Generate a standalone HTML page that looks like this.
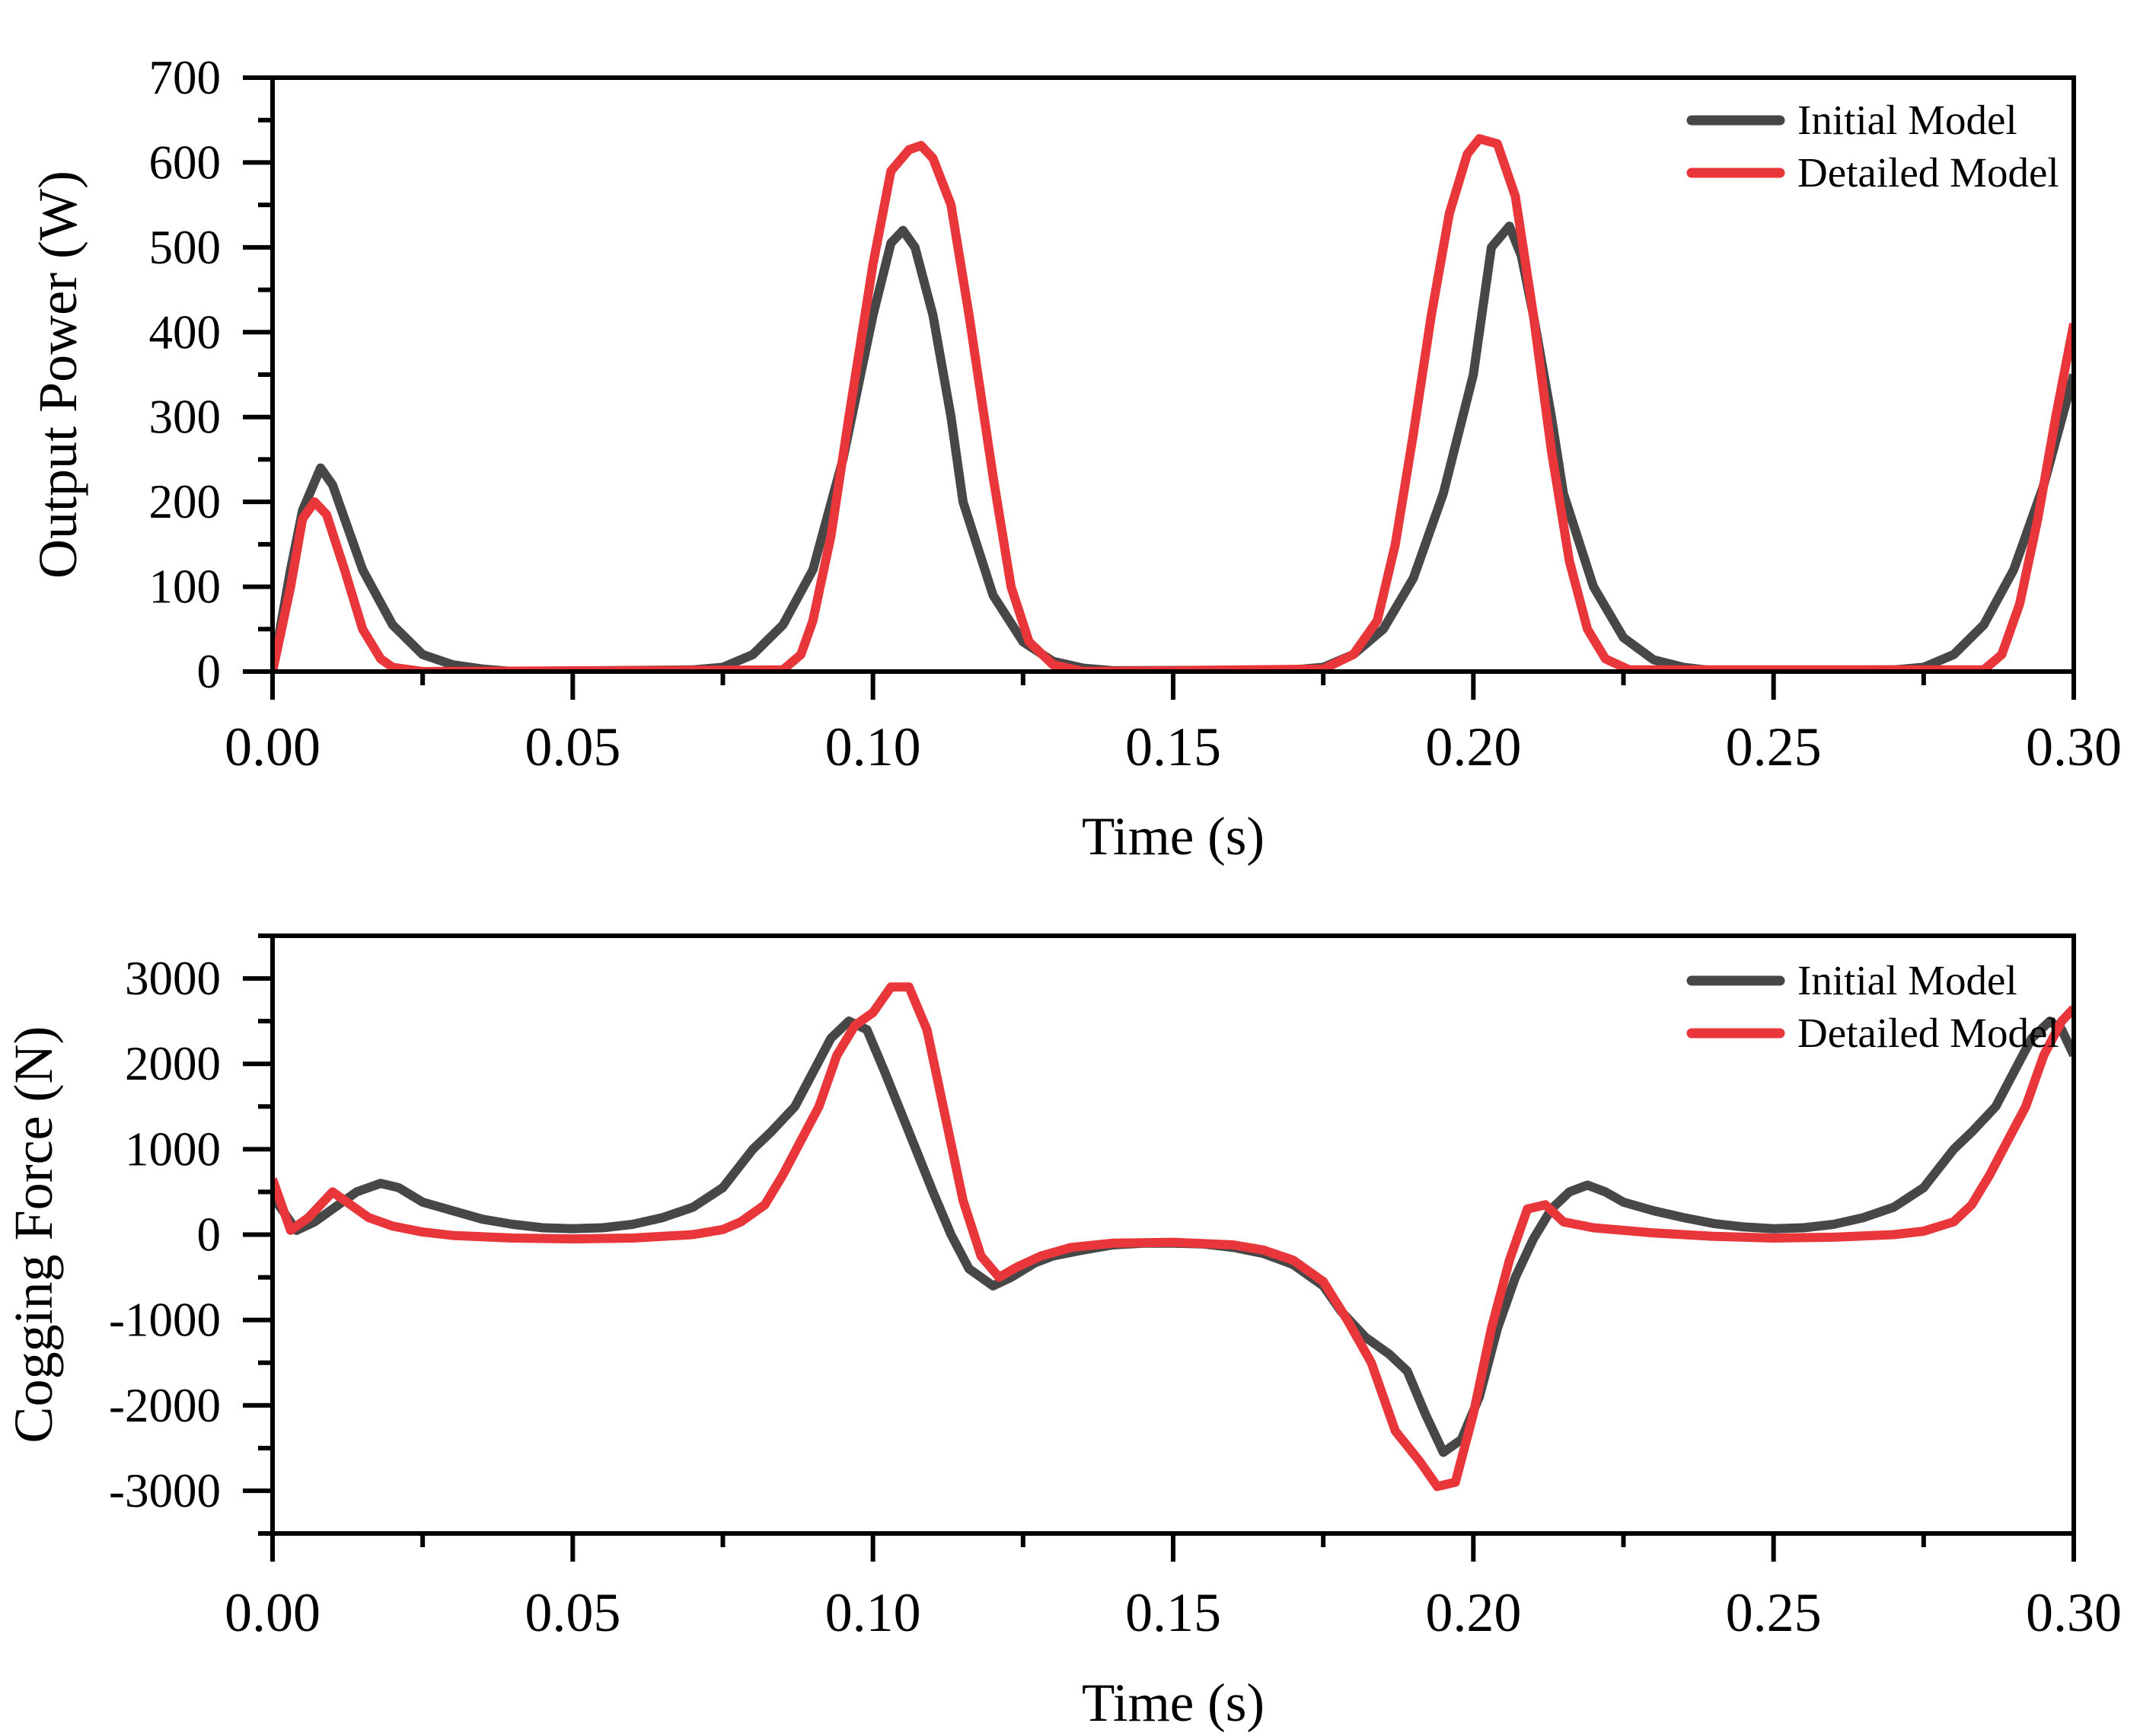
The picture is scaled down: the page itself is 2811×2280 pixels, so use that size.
<!DOCTYPE html>
<html><head><meta charset="utf-8"><style>
html,body{margin:0;padding:0;background:#fff;}
svg{display:block;font-family:"Liberation Serif",serif;}
</style></head><body>
<svg id="c" width="2811" height="2280" viewBox="0 0 2811 2280"></svg>
<script>
const xTicks=["0.00","0.05","0.10","0.15","0.20","0.25","0.30"];
const pTicks=[0,100,200,300,400,500,600,700];
const fTicks=[-3000,-2000,-1000,0,1000,2000,3000];
const seriesNames=["Initial Model","Detailed Model"];
const pInitT=[0,0.003,0.005,0.008,0.01,0.015,0.02,0.025,0.03,0.035,0.04,0.07,0.075,0.08,0.085,0.09,0.095,0.1,0.103,0.105,0.107,0.11,0.113,0.115,0.12,0.125,0.13,0.135,0.14,0.17,0.175,0.18,0.185,0.19,0.195,0.2,0.203,0.206,0.208,0.21,0.213,0.215,0.22,0.225,0.23,0.235,0.24,0.27,0.275,0.28,0.285,0.29,0.295,0.3];
const pInitV=[0,120,190,240,220,120,55,20,8,3,0,2,5,20,55,120,250,420,505,520,500,420,300,200,90,35,12,4,1,2,5,20,50,110,210,350,500,525,490,420,300,210,100,40,14,5,1,2,5,20,55,120,220,350];
const pDetT=[0,0.003,0.005,0.007,0.009,0.012,0.015,0.018,0.02,0.025,0.085,0.088,0.09,0.093,0.096,0.1,0.103,0.106,0.108,0.11,0.113,0.116,0.12,0.123,0.126,0.13,0.135,0.175,0.18,0.184,0.187,0.19,0.193,0.196,0.199,0.201,0.204,0.207,0.21,0.213,0.216,0.219,0.222,0.226,0.285,0.288,0.291,0.294,0.297,0.3];
const pDetV=[0,100,180,200,185,120,50,15,5,0,2,20,60,160,300,480,590,615,620,605,550,420,230,100,35,8,0,3,20,60,150,280,420,540,610,628,622,560,420,260,130,50,15,2,2,20,80,180,300,410];
const fInitT=[0,0.004,0.007,0.01,0.014,0.018,0.021,0.025,0.03,0.035,0.04,0.045,0.05,0.055,0.06,0.065,0.07,0.075,0.08,0.083,0.087,0.09,0.093,0.096,0.099,0.102,0.106,0.11,0.113,0.116,0.12,0.123,0.127,0.13,0.135,0.14,0.145,0.15,0.155,0.16,0.165,0.17,0.175,0.178,0.182,0.186,0.189,0.192,0.195,0.198,0.201,0.204,0.207,0.21,0.213,0.216,0.219,0.222,0.225,0.23,0.235,0.24,0.245,0.25,0.255,0.26,0.265,0.27,0.275,0.28,0.283,0.287,0.29,0.293,0.296,0.298,0.3];
const fInitV=[450,50,150,300,500,600,550,380,280,180,120,80,70,80,120,200,320,550,1000,1200,1500,1900,2300,2500,2400,1900,1200,500,0,-400,-600,-500,-330,-250,-180,-120,-100,-100,-110,-150,-220,-350,-600,-900,-1200,-1400,-1600,-2100,-2550,-2400,-1900,-1100,-500,-50,300,500,580,500,380,280,200,130,90,70,80,120,200,320,550,1000,1200,1500,1900,2300,2500,2400,2100];
const fDetT=[0,0.003,0.006,0.01,0.013,0.016,0.02,0.025,0.03,0.04,0.05,0.06,0.07,0.075,0.078,0.082,0.085,0.088,0.091,0.094,0.097,0.1,0.103,0.106,0.109,0.112,0.115,0.118,0.121,0.124,0.128,0.133,0.14,0.15,0.16,0.165,0.17,0.175,0.179,0.183,0.187,0.191,0.194,0.197,0.2,0.203,0.206,0.209,0.212,0.215,0.22,0.23,0.24,0.25,0.26,0.27,0.275,0.28,0.283,0.286,0.289,0.292,0.295,0.298,0.3];
const fDetV=[650,50,200,500,350,200,100,30,-10,-40,-50,-40,0,60,150,350,700,1100,1500,2100,2450,2600,2900,2900,2400,1400,400,-250,-500,-380,-250,-150,-100,-90,-120,-180,-300,-550,-1000,-1500,-2300,-2650,-2950,-2900,-2100,-1100,-300,300,350,150,80,20,-20,-40,-30,0,40,150,350,700,1100,1500,2100,2500,2650];

const svg=document.getElementById('c');
const NS='http://www.w3.org/2000/svg';
function mk(tag,attrs,parent){const e=document.createElementNS(NS,tag);for(const k in attrs)e.setAttribute(k,attrs[k]);(parent||svg).appendChild(e);return e;}
const L=358,R=2724;
const xs=t=>L+(t/0.3)*(R-L);
const colors=["#474747","#e8363a"];

function panel(id,top,bot,ymin,ymax,yt,minorStep,ytitle,series,xLabY,xTitleY,legY,yTitleX){
  const g=mk('g',{});
  
  
  const ys=v=>bot-(v-ymin)/(ymax-ymin)*(bot-top);
  const clipId=id+'-clip';
  const cp=mk('clipPath',{id:clipId},g);mk('rect',{x:L,y:top,width:R-L,height:bot-top},cp);
  series.forEach((s,i)=>{
    let d='';s[0].forEach((t,j)=>{d+=(j?'L':'M')+xs(t).toFixed(1)+','+ys(s[1][j]).toFixed(1);});
    const p=mk('path',{d:d,fill:'none',stroke:colors[i],'stroke-width':12,'stroke-linejoin':'round','clip-path':'url(#'+clipId+')'},g);
    
    
  });
  const fr=mk('rect',{x:L,y:top,width:R-L,height:bot-top,fill:'none',stroke:'#000','stroke-width':6},g);
  
  
  for(let v=ymin;v<=ymax+1e-9;v+=minorStep){
    const major=yt.includes(v);
    mk('line',{x1:L,x2:L-(major?39:19),y1:ys(v),y2:ys(v),stroke:'#000','stroke-width':6},g);
  }
  yt.forEach(v=>{const t=mk('text',{x:L-68,y:ys(v)+21,'text-anchor':'end','font-size':63},g);t.textContent=String(v);
    
    });
  for(let k=0;k<=12;k++){const t=k*0.025,major=k%2==0;
    mk('line',{x1:xs(t),x2:xs(t),y1:bot,y2:bot+(major?37:18),stroke:'#000','stroke-width':6},g);}
  xTicks.forEach((lab,k)=>{const t=mk('text',{x:xs(k*0.05),y:xLabY,'text-anchor':'middle','font-size':72},g);t.textContent=lab;
    
    });
  const xt=mk('text',{x:(L+R)/2,y:xTitleY,'text-anchor':'middle','font-size':71},g);xt.textContent='Time (s)';
  
  
  const cy=(top+bot)/2;
  const yT=mk('text',{x:0,y:0,'text-anchor':'middle','font-size':72,transform:'translate('+yTitleX+','+cy+') rotate(-90)'},g);yT.textContent=ytitle;
  
  
  seriesNames.forEach((n,i)=>{
    const y=legY+i*69;
    const lg=mk('g',{},g);
    
    
    mk('line',{x1:2222,x2:2338,y1:y,y2:y,stroke:colors[i],'stroke-width':13,'stroke-linecap':'round'},lg);
    const t=mk('text',{x:2361,y:y+18,'font-size':55},lg);t.textContent=n;
  });
}
panel('power',102,882,0,700,pTicks,50,'Output Power (W)',[[pInitT,pInitV],[pDetT,pDetV]],1005,1122,158,100);
panel('cogging',1229,2014,-3500,3500,fTicks,500,'Cogging Force (N)',[[fInitT,fInitV],[fDetT,fDetV]],2142,2260,1288,68);
</script>
</body></html>
